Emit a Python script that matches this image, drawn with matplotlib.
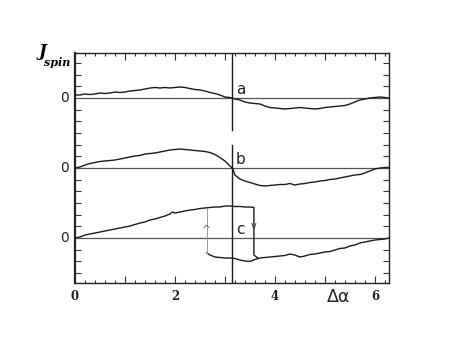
import numpy as np
import matplotlib
matplotlib.use("Agg")
import matplotlib.pyplot as plt
from matplotlib.ticker import MultipleLocator, FixedLocator

# ---- data (y in arbitrary units; curves offset for display) ----
xa = [0.0,0.1,0.2,0.3,0.4,0.5,0.6,0.7,0.8,0.9,1.0,1.1,1.2,1.3,1.4,1.5,1.6,1.7,1.8,1.9,2.0,2.1,2.2,2.3,2.4,2.5,2.6,2.7,2.8,2.9,3.0,3.1,3.2,3.3,3.4,3.5,3.6,3.7,3.8,3.9,4.0,4.1,4.2,4.3,4.4,4.5,4.6,4.7,4.8,4.9,5.0,5.1,5.2,5.3,5.4,5.5,5.6,5.7,5.8,5.9,6.0,6.1,6.2,6.28]
ya = [3,3,4,3.5,4,5,4.5,5,6,5.5,6,7,7.5,8,9,10,10.5,10,10.5,10,10.5,11,10.5,9.5,8.5,8,7,5.5,4.5,3,1,0.5,-1,-2,-4,-5,-5.5,-6,-8,-9.5,-10,-10.5,-11,-10.5,-10,-9.5,-10,-10.5,-11,-10.5,-9.5,-9,-8.5,-8,-7.5,-6,-4,-2,-1,0,0.5,1,0.5,0]

xb = [0.0,0.1,0.2,0.3,0.4,0.5,0.6,0.7,0.8,0.9,1.0,1.1,1.2,1.3,1.4,1.5,1.6,1.7,1.8,1.9,2.0,2.1,2.2,2.3,2.4,2.5,2.6,2.7,2.8,2.9,3.0,3.1,3.15,3.2,3.3,3.4,3.5,3.6,3.7,3.8,3.9,4.0,4.1,4.2,4.3,4.4,4.5,4.6,4.7,4.8,4.9,5.0,5.1,5.2,5.3,5.4,5.5,5.6,5.7,5.8,5.9,6.0,6.1,6.2,6.28]
yb = [0,1,3,4.5,5.5,6.5,7,7.5,8,9,10,11,12,12.5,14,14.5,15,16,17,18,18.5,19,18.5,18,17.5,17,16.5,15.5,13.5,10.5,7,2,0,-7,-11,-13,-14.5,-16,-17.5,-18,-17.5,-17,-16.5,-16.5,-15.5,-17,-16,-15.5,-14.5,-14,-13,-12.5,-11.5,-11,-10,-9,-8,-7,-6.5,-5,-3,-1,0,0.5,0.5]

xc_up = [0.0,0.1,0.2,0.3,0.4,0.5,0.6,0.7,0.8,0.9,1.0,1.1,1.2,1.3,1.4,1.5,1.6,1.7,1.8,1.9,1.95,2.0,2.1,2.2,2.3,2.4,2.5,2.6,2.7,2.8,2.9,3.0,3.1,3.2,3.3,3.4,3.5,3.58,3.58,3.66]
yc_up = [0,1,3,4,5,6,7,8,9,10,11,12,13.5,15,16,18,19,20.5,22,24,26,25,26,27,28,28.5,29.5,30,30.5,31,31,32,32,31.5,31.5,31,31,30.5,-17,-20]

xc_dn = [2.64,2.7,2.8,2.9,3.0,3.1,3.2,3.3,3.4,3.5,3.6,3.7,3.8,3.9,4.0,4.1,4.2,4.3,4.4,4.5,4.6,4.7,4.8,4.9,5.0,5.1,5.2,5.3,5.4,5.5,5.6,5.7,5.8,5.9,6.0,6.1,6.2,6.28]
yc_dn = [-15,-17,-19,-19.5,-20,-20,-20.5,-22,-23,-23.5,-21.5,-20,-19.5,-19,-18.5,-18,-17.5,-16,-17,-19,-18,-16.5,-16,-15,-14,-13.5,-12,-10.5,-10,-8,-7,-5,-4,-3,-2,-1.5,-1,0]

x_jump_up = 2.64
x_jump_down = 3.58
curve_labels = ["a", "b", "c"]
offsets = [140, 70, 0]
xtick_vals = [0, 2, 4, 6]

# ---- figure ----
W, H = 474, 345
fig = plt.figure(figsize=(W/100, H/100), dpi=100)
ax = fig.add_axes([75/W, (H-283)/H, 314/W, 230/H])
ax.set_xlim(0, 2*np.pi)
ax.set_ylim(-45, 185)

lc = "#1a1a1a"
lw = 1.0
for off in offsets:
    ax.axhline(off, color="#555555", lw=0.9, zorder=1)

ax.plot(xa, np.array(ya) + offsets[0], color=lc, lw=lw)
ax.plot(xb, np.array(yb) + offsets[1], color=lc, lw=lw)
ax.plot(xc_up, np.array(yc_up) + offsets[2], color=lc, lw=lw)
ax.plot(xc_dn, np.array(yc_dn) + offsets[2], color=lc, lw=lw)
# jump lines
ax.plot([x_jump_up, x_jump_up], [yc_dn[0] + offsets[2], 30.5 + offsets[2]],
        color="#999999", lw=0.7)
ax.text(x_jump_up, 8, "^", ha="center", va="center", fontsize=8,
        color="#666666", family="DejaVu Sans")
ax.text(x_jump_down, 12, "v", ha="center", va="center", fontsize=7,
        color="#333333", family="DejaVu Sans")

# vertical line at pi
ax.plot([np.pi, np.pi], [185, 108], color=lc, lw=1.0)
ax.plot([np.pi, np.pi], [93, -45], color=lc, lw=1.0)

# curve labels
for lab, off in zip(curve_labels, offsets):
    ax.text(np.pi + 0.08, off + 1.5, lab, fontsize=11, ha="left", va="bottom",
            family="DejaVu Sans", color="#222222")
    ax.text(-0.12, off, "0", fontsize=10, ha="right", va="center",
            family="DejaVu Sans", color="#222222")

# ticks
ax.xaxis.set_major_locator(FixedLocator([1, 2, 3, 4, 5, 6]))
ax.xaxis.set_minor_locator(MultipleLocator(0.2))
ax.set_xticklabels([])
yt = [k*70/6 for k in range(-3, 16) if k % 6 != 0]
ax.yaxis.set_major_locator(FixedLocator(yt))
ax.set_yticklabels([])
ax.tick_params(axis="both", which="both", direction="in", top=True, right=True,
               color="#333333", width=0.8)
ax.tick_params(axis="x", which="major", length=5)
ax.tick_params(axis="x", which="minor", length=2.5)
ax.tick_params(axis="y", which="major", length=4)
for s in ax.spines.values():
    s.set_linewidth(1.0)
    s.set_color("#222222")
ax.spines["left"].set_linewidth(1.6)

for v in xtick_vals:
    ax.text(v, -52, str(v), ha="center", va="top", fontsize=8.5,
            family="DejaVu Serif", weight="bold", color="#222222")
ax.text(5.28, -50, "Δα", ha="center", va="top", fontsize=12.5,
        family="DejaVu Sans", color="#222222")

# y label J_spin
fig.text(43/W, 1 - 52/H, "J", fontsize=12, family="DejaVu Serif",
         style="italic", weight="bold", ha="center", va="center")
fig.text(57/W, 1 - 62/H, "spin", fontsize=8, family="DejaVu Serif",
         style="italic", weight="bold", ha="center", va="center")

fig.savefig("out.png", dpi=100, facecolor="white")
